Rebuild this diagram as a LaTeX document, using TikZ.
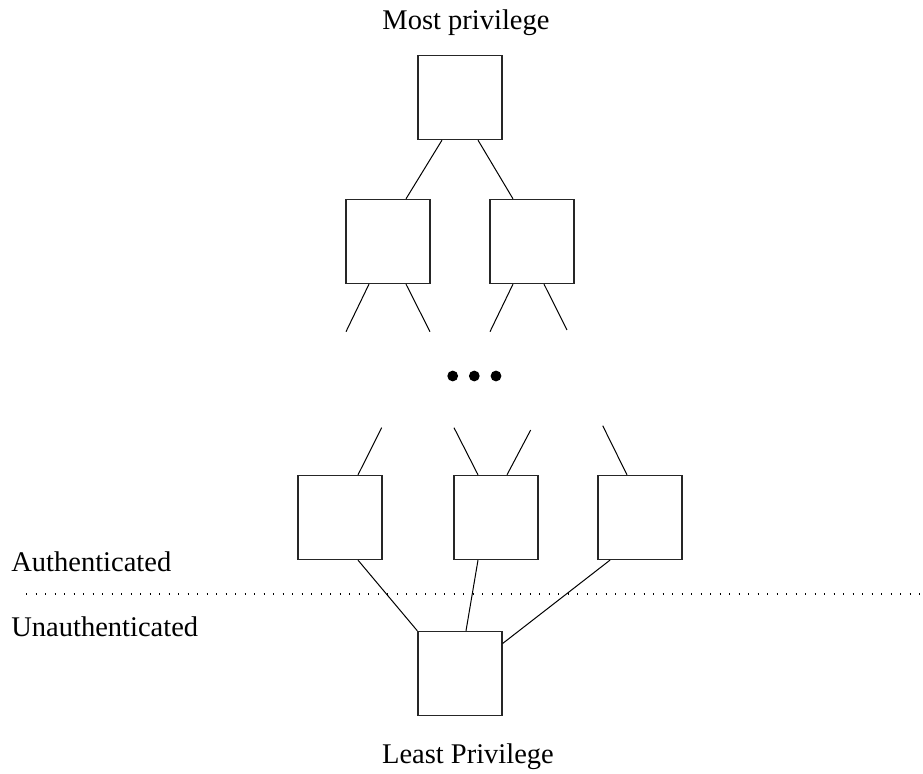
\documentclass[tikz,border=0pt]{standalone}
\usepackage{fontspec}
\setmainfont{Liberation Serif}
\usepackage{tikz}
\usetikzlibrary{calc}
\tikzstyle{link} = [line width=0.5pt, color=black]

\begin{document}
\begin{tikzpicture}[x=0.5pt, y=-0.5pt,
    level/.style={rectangle, draw=black!85, line width=0.65pt, minimum width=42pt, minimum height=42pt, inner sep=0pt},
    caption/.style={font=\fontsize{14.25}{17}\selectfont, inner sep=0pt}]

\useasboundingbox (0,0) rectangle (923,774);

% Top of the hierarchy
\node[caption, anchor=base] (most) at (466,30) {Most privilege};
\node[level] (top) at (460,97.5) {};

% Second level
\node[level] (left) at (388,241.5) {};
\node[level] (right) at (532,241.5) {};

\draw[link] ($(top.south)+(-18,0)$) -- ($(left.north)+(18,0)$);
\draw[link] ($(top.south)+(18,0)$) -- ($(right.north)+(-19,0)$);

% Open branches below the second level
\coordinate (la) at (346,331.7);
\coordinate (lb) at (430,331.7);
\coordinate (ra) at (490,331.7);
\coordinate (rb) at (567,330);
\draw[link] ($(left.south)+(-19,0)$) -- (la);
\draw[link] ($(left.south)+(18,0)$) -- (lb);
\draw[link] ($(right.south)+(-19,0)$) -- (ra);
\draw[link] ($(right.south)+(12,0)$) -- (rb);

% Ellipsis
\fill (452.7,376) circle (2.7pt);
\fill (474.3,376) circle (2.7pt);
\fill (496,376) circle (2.7pt);

% Lowest authenticated level
\node[level] (auth1) at (340,517.5) {};
\node[level] (auth2) at (496,517.5) {};
\node[level] (auth3) at (640,517.5) {};

\coordinate (ua) at (381.7,427.7);
\coordinate (ub) at (454,427.7);
\coordinate (uc) at (530.7,430);
\coordinate (ud) at (602.7,425.7);
\draw[link] (ua) -- ($(auth1.north)+(18,0)$);
\draw[link] (ub) -- ($(auth2.north)+(-18,0)$);
\draw[link] (uc) -- ($(auth2.north)+(11,0)$);
\draw[link] (ud) -- ($(auth3.north)+(-13,0)$);

% Boundary
\node[caption, anchor=base west] (authtext) at (11,571.7) {Authenticated};
\draw[line width=0.6pt, dash pattern=on 0.6pt off 4.15pt] (26,594) -- (923,594);
\node[caption, anchor=base west] (unauthtext) at (11,636.7) {Unauthenticated};

% Bottom of the hierarchy
\node[level] (bottom) at (460,673.5) {};
\node[caption, anchor=base] (least) at (468,763.3) {Least Privilege};

\draw[link] ($(auth1.south)+(18,0)$) -- (bottom.north west);
\draw[link] ($(auth2.south)+(-18,0)$) -- ($(bottom.north)+(6,0)$);
\draw[link] ($(auth3.south)+(-30,0)$) -- ($(bottom.east)+(0,-30)$);

\end{tikzpicture}
\end{document}
